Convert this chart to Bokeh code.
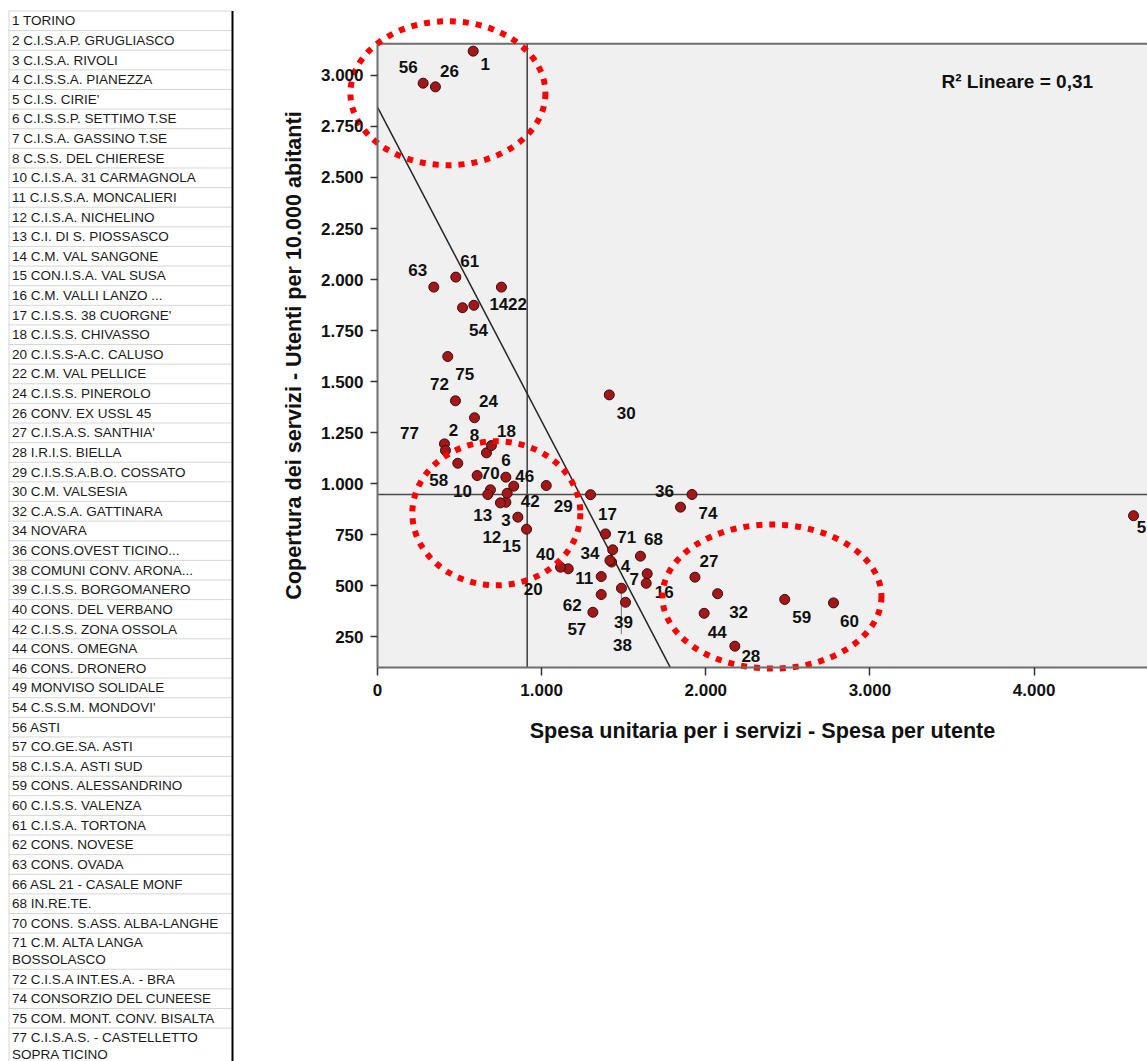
import numpy as np
from bokeh.plotting import figure
from bokeh.models import Range1d, FixedTicker, ColumnDataSource, Label
from bokeh.layouts import row
from bokeh.embed import file_html
from bokeh.resources import INLINE
from bokeh.core.properties import value

# ---------------- data ----------------
list_ids = [1, 2, 3, 4, 5, 6, 7, 8, 10, 11, 12, 13, 14, 15, 16, 17, 18, 20, 22, 24, 26, 27,
            28, 29, 30, 32, 34, 36, 38, 39, 40, 42, 44, 46, 49, 54, 56, 57, 58, 59, 60, 61,
            62, 63, 66, 68, 70, 71, 72, 74, 75, 77]
list_names = ["TORINO", "C.I.S.A.P. GRUGLIASCO", "C.I.S.A. RIVOLI", "C.I.S.S.A. PIANEZZA",
              "C.I.S. CIRIE'", "C.I.S.S.P. SETTIMO T.SE", "C.I.S.A. GASSINO T.SE",
              "C.S.S. DEL CHIERESE", "C.I.S.A. 31 CARMAGNOLA", "C.I.S.S.A. MONCALIERI",
              "C.I.S.A. NICHELINO", "C.I. DI S. PIOSSASCO", "C.M. VAL SANGONE",
              "CON.I.S.A.  VAL SUSA", "C.M. VALLI LANZO ...", "C.I.S.S. 38 CUORGNE'",
              "C.I.S.S. CHIVASSO", "C.I.S.S-A.C.  CALUSO", "C.M. VAL PELLICE",
              "C.I.S.S. PINEROLO", "CONV. EX USSL 45", "C.I.S.A.S. SANTHIA'", "I.R.I.S. BIELLA",
              "C.I.S.S.A.B.O. COSSATO", "C.M. VALSESIA", "C.A.S.A. GATTINARA", "NOVARA",
              "CONS.OVEST TICINO...", "COMUNI CONV. ARONA...", "C.I.S.S. BORGOMANERO",
              "CONS. DEL VERBANO", "C.I.S.S. ZONA OSSOLA", "CONS. OMEGNA", "CONS. DRONERO",
              "MONVISO SOLIDALE", "C.S.S.M. MONDOVI'", "ASTI", "CO.GE.SA. ASTI",
              "C.I.S.A. ASTI SUD", "CONS. ALESSANDRINO", "C.I.S.S. VALENZA",
              "C.I.S.A. TORTONA", "CONS. NOVESE", "CONS. OVADA", "ASL 21 - CASALE MONF",
              "IN.RE.TE.", "CONS. S.ASS. ALBA-LANGHE", "C.M. ALTA LANGA\nBOSSOLASCO",
              "C.I.S.A INT.ES.A. - BRA", "CONSORZIO DEL CUNEESE", "COM. MONT. CONV. BISALTA",
              "C.I.S.A.S. - CASTELLETTO\nSOPRA TICINO"]

# Spesa per utente (x) and Utenti per 10.000 abitanti (y), one value per id of list_ids
spesa = [583, 408, 782, 1426, 4606, 782, 1643, 664, 688, 1363, 855, 672, 587, 908, 1637,
         1389, 694, 1162, 755, 591, 353, 1934, 2177, 1028, 1412, 2072, 1416, 1846, 1486,
         1511, 1115, 790, 1990, 830, 749, 518, 278, 1312, 489, 2481, 2778, 477, 1363, 343,
         1298, 1602, 607, 1433, 475, 1916, 428, 414]
copertura = [3119, 1195, 909, 616, 843, 1032, 559, 1151, 970, 545, 836, 947, 1874, 777, 512,
             754, 1187, 583, 1963, 1323, 2944, 542, 204, 991, 1435, 461, 624, 885, 488, 419,
             591, 953, 365, 988, 906, 1862, 2962, 370, 1100, 433, 416, 2012, 457, 1963, 946,
             645, 1040, 676, 1406, 947, 1623, 1163]
hidden_labels = [49, 66]

# regression line (R2 lineare = 0,31) and reference lines
reg_x = [0, 1785]
reg_y = [2845, 98]
ref_x = 912
ref_y = 947
r2_text = "R\u00b2 Lineare = 0,31"

x_ticks = [0, 1000, 2000, 3000, 4000]
x_tick_labels = ["0", "1.000", "2.000", "3.000", "4.000"]
y_ticks = [250, 500, 750, 1000, 1250, 1500, 1750, 2000, 2250, 2500, 2750, 3000]
y_tick_labels = ["250", "500", "750", "1.000", "1.250", "1.500", "1.750", "2.000", "2.250",
                 "2.500", "2.750", "3.000"]
y_box = (98, 3155)      # vertical extent of the plot box
x_right = 4691          # x value at the right edge of the picture

# highlighted groups (ellipse centres in data units)
ell_cx = [429, 724, 2403]
ell_cy = [2913, 855, 447]

# ---------------- layout / style ----------------
FONT = "Liberation Sans"
label_offset = {  # screen pixel offsets of point labels
    1: (12, 13), 2: (9, -14), 3: (0, 18), 4: (14, 4), 5: (8, 11), 6: (0, -17), 7: (-13, 5),
    8: (-12, -18), 10: (-28, 1), 11: (-17, 1), 12: (-26, 20), 13: (-5, 20), 14: (25, -1),
    15: (-15, 17), 16: (18, 9), 17: (2, -20), 18: (15, -15), 20: (-35, 20), 22: (16, 17),
    24: (14, -17), 26: (14, -16), 27: (14, -16), 28: (16, 10), 29: (17, 20), 30: (17, 18),
    32: (21, 18), 34: (-20, -7), 36: (-16, -16), 38: (1, 57), 39: (-2, 20), 40: (-15, -13),
    42: (23, 8), 44: (13, 19), 46: (11, -10), 49: (0, 0), 54: (16, 22), 56: (-15, -16),
    57: (-16, 17), 58: (-19, 17), 59: (17, 18), 60: (16, 18), 61: (14, -16), 62: (-29, 10),
    63: (-16, -17), 66: (0, 0), 68: (13, -17), 70: (13, -3), 71: (14, -13), 72: (-16, -17),
    74: (16, 18), 75: (17, 17), 77: (-36, -17)}
leader_ids = [38]
ell_w_px = [195, 168, 219]
ell_h_px = [144, 144, 144]

H = 1061
LIST_W = 234
P_W = 913
BOX_L, BOX_T, BOX_B = 143.0, 43.3, 667.3    # box position inside the scatter figure (px)
ppx = (P_W - BOX_L) / x_right
ppy = (BOX_B - BOX_T) / (y_box[1] - y_box[0])
X0 = -BOX_L / ppx
Y1 = y_box[1] + BOX_T / ppy
Y0 = y_box[0] - (H - BOX_B) / ppy

# ---------------- list panel ----------------
lf = figure(width=LIST_W, height=H, x_range=Range1d(0, LIST_W), y_range=Range1d(H, 0),
            toolbar_location=None, output_backend="svg", min_border=0,
            outline_line_color=None)
lf.axis.visible = False
lf.grid.visible = False
ROW, WRAP = 19.62, 16.5
ytop = 10.5
tx, ty, tt = [], [], []
seps = [ytop]
for i, n in zip(list_ids, list_names):
    lines = f"{i} {n}".split("\n")
    for k, ln in enumerate(lines):
        tx.append(11.5)
        ty.append(ytop + ROW / 2 + k * WRAP)
        tt.append(ln)
    ytop += ROW + WRAP * (len(lines) - 1)
    seps.append(ytop)
lf.segment(x0=[8] * len(seps), x1=[231] * len(seps), y0=seps, y1=seps,
           line_color="#d6d6d6", line_width=1)
lf.segment(x0=[8.5], x1=[8.5], y0=[10.5], y1=[H], line_color="#d6d6d6", line_width=1)
lf.text(x=tx, y=ty, text=tt, text_font=value(FONT), text_font_size="13.5px",
        text_color="#1a1a1a", text_baseline="middle", text_align="left")
lf.segment(x0=[232], x1=[232], y0=[10.5], y1=[H], line_color="black", line_width=2)

# ---------------- scatter ----------------
p = figure(width=P_W, height=H, x_range=Range1d(X0, x_right), y_range=Range1d(Y0, Y1),
           toolbar_location=None, output_backend="svg", min_border=0,
           background_fill_color="white", border_fill_color="white",
           outline_line_color=None)
p.grid.visible = False

# plot box, border and reference lines
p.quad(left=[0], right=[x_right], bottom=[y_box[0]], top=[y_box[1]],
       fill_color="#f0f0f0", line_color=None)
p.segment(x0=[0], x1=[x_right], y0=[y_box[1]], y1=[y_box[1]], line_color="#6e6e6e",
          line_width=2)
p.segment(x0=[ref_x, 0], x1=[ref_x, x_right], y0=[y_box[0], ref_y], y1=[y_box[1], ref_y],
          line_color="#4a4a4a", line_width=1.6)

for ax in (p.xaxis[0], p.yaxis[0]):
    ax.axis_line_color = "#6e6e6e"
    ax.axis_line_width = 2
    ax.major_tick_line_color = "#333333"
    ax.major_tick_line_width = 1.5
    ax.major_tick_in = 0
    ax.minor_tick_in = 0
    ax.minor_tick_out = 0
    ax.major_label_text_font = FONT
    ax.major_label_text_font_style = "bold"
    ax.major_label_text_font_size = "17px"
    ax.major_label_text_color = "#111111"
    ax.axis_label_text_font = FONT
    ax.axis_label_text_font_style = "bold"
    ax.axis_label_text_font_size = "21.6px"
    ax.axis_label_text_color = "#111111"

p.xaxis.fixed_location = y_box[0]
p.xaxis.bounds = (0, x_right)
p.xaxis.ticker = FixedTicker(ticks=x_ticks)
p.xaxis.major_label_overrides = dict(zip(x_ticks, x_tick_labels))
p.xaxis.major_tick_out = 8
p.xaxis.major_label_standoff = 8
p.xaxis.axis_label = "Spesa unitaria per i servizi - Spesa per utente"
p.xaxis.axis_label_standoff = 19

p.yaxis.fixed_location = 0
p.yaxis.bounds = y_box
p.yaxis.ticker = FixedTicker(ticks=y_ticks)
p.yaxis.major_label_overrides = dict(zip(y_ticks, y_tick_labels))
p.yaxis.major_tick_out = 7
p.yaxis.major_label_standoff = 7
p.yaxis.axis_label = "Copertura dei servizi - Utenti per 10.000 abitanti"
p.yaxis.axis_label_standoff = 12

p.line(reg_x, reg_y, line_color="#262626", line_width=1.5)

labels = ["" if i in hidden_labels else str(i) for i in list_ids]
src = ColumnDataSource(dict(x=spesa, y=copertura, label=labels,
                            dx=[label_offset[i][0] for i in list_ids],
                            dy=[label_offset[i][1] for i in list_ids]))

for i in leader_ids:
    k = list_ids.index(i)
    dy = label_offset[i][1]
    p.segment(x0=[spesa[k]], x1=[spesa[k]], y0=[copertura[k]],
              y1=[copertura[k] - (dy - 11) / ppy], line_color="#8a8a8a", line_width=1.2)

p.text(x="x", y="y", text="label", x_offset="dx", y_offset="dy", source=src,
       text_font=value(FONT), text_font_style="bold", text_font_size="17px",
       text_color="#111111", text_align="center", text_baseline="middle")
p.scatter(x="x", y="y", source=src, size=10, fill_color="#a31717",
          line_color="#3a0a0a", line_width=1)

p.add_layout(Label(x=3436, y=2970, text=r2_text, text_font=FONT, text_font_style="bold",
                   text_font_size="19px", text_color="#111111", text_baseline="middle",
                   text_align="left"))

p.ellipse(x=ell_cx, y=ell_cy, width=ell_w_px, height=ell_h_px, width_units="screen",
          height_units="screen", fill_alpha=0, line_color="#ff0000", line_width=6,
          line_dash="6 7")

layout = row(lf, p)
open("out.html", "w").write(file_html(layout, INLINE))
